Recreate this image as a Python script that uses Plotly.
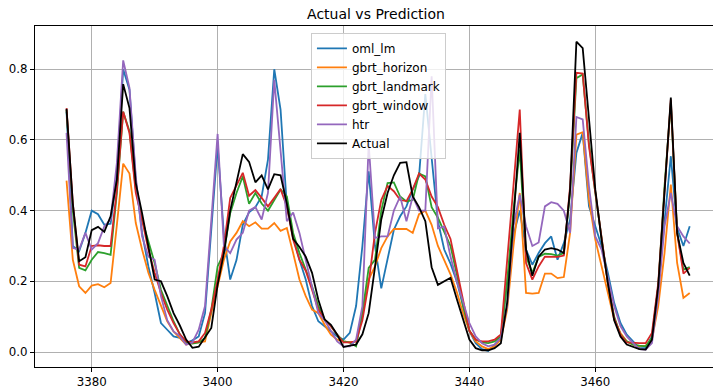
import plotly.graph_objects as go

# time index of the evaluation window
steps = list(range(3376, 3476))

actual = [0.688, 0.42, 0.257, 0.268, 0.345, 0.354, 0.34, 0.384, 0.488, 0.758,
          0.69, 0.478, 0.393, 0.30, 0.205, 0.20, 0.158, 0.11, 0.075, 0.035,
          0.012, 0.015, 0.04, 0.068, 0.19, 0.28, 0.40, 0.478, 0.56, 0.538,
          0.48, 0.50, 0.46, 0.503, 0.50, 0.42, 0.32, 0.297, 0.27, 0.224,
          0.148, 0.092, 0.077, 0.049, 0.014, 0.018, 0.021, 0.05, 0.11, 0.24,
          0.375, 0.45, 0.50, 0.535, 0.537, 0.44, 0.41, 0.37, 0.24, 0.19,
          0.20, 0.21, 0.15, 0.09, 0.035, 0.011, 0.005, 0.005, 0.011, 0.025,
          0.14, 0.375, 0.62, 0.29, 0.216, 0.27, 0.29, 0.294, 0.29, 0.28,
          0.46, 0.878, 0.86, 0.66, 0.46, 0.318, 0.195, 0.09, 0.044, 0.021,
          0.014, 0.008, 0.007, 0.035, 0.186, 0.45, 0.72, 0.337, 0.252, 0.216]

oml_lm = [0.68, 0.30, 0.285, 0.337, 0.40, 0.39, 0.36, 0.363, 0.50, 0.80,
          0.742, 0.488, 0.337, 0.242, 0.167, 0.082, 0.063, 0.044, 0.04, 0.025,
          0.033, 0.044, 0.11, 0.356, 0.585, 0.33, 0.205, 0.26, 0.36, 0.395,
          0.41, 0.44, 0.544, 0.80, 0.686, 0.412, 0.327, 0.261, 0.205, 0.13,
          0.087, 0.073, 0.058, 0.044, 0.035, 0.054, 0.13, 0.30, 0.511, 0.30,
          0.18, 0.261, 0.346, 0.384, 0.412, 0.46, 0.497, 0.73, 0.55, 0.37,
          0.29, 0.25, 0.20, 0.13, 0.06, 0.025, 0.008, 0.003, 0.02, 0.04,
          0.20, 0.33, 0.40, 0.29, 0.247, 0.28, 0.308, 0.327, 0.261, 0.308,
          0.375, 0.563, 0.62, 0.412, 0.356, 0.30, 0.224, 0.139, 0.082, 0.049,
          0.03, 0.011, 0.011, 0.044, 0.186, 0.375, 0.554, 0.351, 0.30, 0.356]

gbrt_horizon = [0.485, 0.261, 0.186, 0.167, 0.188, 0.192, 0.183, 0.195, 0.36, 0.533,
                0.505, 0.365, 0.29, 0.224, 0.176, 0.13, 0.087, 0.058, 0.04, 0.021,
                0.025, 0.027, 0.03, 0.11, 0.186, 0.261, 0.313, 0.337, 0.37, 0.356,
                0.367, 0.349, 0.349, 0.365, 0.343, 0.351, 0.28, 0.205, 0.158, 0.12,
                0.11, 0.077, 0.049, 0.035, 0.03, 0.027, 0.03, 0.11, 0.205, 0.242,
                0.294, 0.327, 0.348, 0.349, 0.348, 0.337, 0.39, 0.40, 0.36, 0.30,
                0.26, 0.22, 0.17, 0.11, 0.06, 0.03, 0.016, 0.008, 0.016, 0.035,
                0.12, 0.30, 0.45, 0.167, 0.165, 0.167, 0.222, 0.222, 0.209, 0.212,
                0.337, 0.615, 0.622, 0.431, 0.318, 0.242, 0.167, 0.092, 0.054, 0.03,
                0.021, 0.016, 0.018, 0.035, 0.13, 0.28, 0.474, 0.252, 0.153, 0.167]

gbrt_landmark = [0.685, 0.40, 0.238, 0.231, 0.261, 0.283, 0.28, 0.275, 0.45, 0.68,
                 0.625, 0.46, 0.375, 0.31, 0.252, 0.176, 0.13, 0.087, 0.05, 0.027,
                 0.024, 0.027, 0.04, 0.12, 0.242, 0.28, 0.393, 0.45, 0.497, 0.419,
                 0.45, 0.42, 0.40, 0.43, 0.46, 0.44, 0.337, 0.28, 0.235, 0.186,
                 0.13, 0.092, 0.073, 0.049, 0.03, 0.027, 0.016, 0.11, 0.238, 0.261,
                 0.40, 0.478, 0.48, 0.44, 0.426, 0.43, 0.505, 0.497, 0.41, 0.38,
                 0.34, 0.30, 0.22, 0.13, 0.06, 0.035, 0.027, 0.025, 0.03, 0.045,
                 0.20, 0.40, 0.573, 0.27, 0.224, 0.269, 0.278, 0.277, 0.273, 0.28,
                 0.45, 0.775, 0.785, 0.59, 0.45, 0.327, 0.195, 0.10, 0.049, 0.03,
                 0.021, 0.018, 0.016, 0.04, 0.186, 0.469, 0.705, 0.337, 0.233, 0.24]

gbrt_window = [0.69, 0.42, 0.247, 0.242, 0.30, 0.302, 0.30, 0.30, 0.46, 0.68,
               0.62, 0.45, 0.375, 0.29, 0.224, 0.167, 0.12, 0.082, 0.05, 0.03,
               0.027, 0.03, 0.054, 0.12, 0.205, 0.30, 0.436, 0.47, 0.507, 0.442,
               0.458, 0.436, 0.412, 0.436, 0.461, 0.412, 0.318, 0.261, 0.23, 0.176,
               0.12, 0.092, 0.073, 0.049, 0.027, 0.027, 0.03, 0.09, 0.195, 0.337,
               0.43, 0.47, 0.455, 0.43, 0.427, 0.46, 0.505, 0.488, 0.44, 0.41,
               0.36, 0.32, 0.23, 0.14, 0.06, 0.035, 0.03, 0.03, 0.035, 0.05,
               0.25, 0.47, 0.686, 0.252, 0.205, 0.242, 0.27, 0.27, 0.269, 0.273,
               0.469, 0.79, 0.788, 0.582, 0.45, 0.318, 0.195, 0.096, 0.049, 0.027,
               0.025, 0.025, 0.025, 0.054, 0.195, 0.459, 0.714, 0.337, 0.222, 0.238]

htr = [0.62, 0.294, 0.29, 0.337, 0.29, 0.308, 0.355, 0.375, 0.535, 0.825,
       0.747, 0.497, 0.327, 0.27, 0.261, 0.158, 0.09, 0.058, 0.045, 0.021,
       0.027, 0.063, 0.13, 0.36, 0.617, 0.30, 0.28, 0.318, 0.337, 0.40,
       0.41, 0.375, 0.45, 0.77, 0.563, 0.37, 0.395, 0.337, 0.26, 0.186,
       0.11, 0.09, 0.06, 0.03, 0.016, 0.016, 0.035, 0.13, 0.59, 0.323,
       0.327, 0.327, 0.40, 0.44, 0.37, 0.44, 0.40, 0.40, 0.78, 0.35,
       0.355, 0.27, 0.2, 0.139, 0.082, 0.044, 0.025, 0.016, 0.021, 0.04,
       0.13, 0.356, 0.445, 0.356, 0.30, 0.31, 0.412, 0.424, 0.419, 0.40,
       0.337, 0.665, 0.658, 0.469, 0.327, 0.29, 0.214, 0.13, 0.073, 0.044,
       0.025, 0.008, 0.007, 0.025, 0.158, 0.356, 0.45, 0.356, 0.327, 0.307]

series = [
    ("oml_lm", oml_lm, "#1f77b4"),
    ("gbrt_horizon", gbrt_horizon, "#ff7f0e"),
    ("gbrt_landmark", gbrt_landmark, "#2ca02c"),
    ("gbrt_window", gbrt_window, "#d62728"),
    ("htr", htr, "#9467bd"),
    ("Actual", actual, "#000000"),
]

FONT = "DejaVu Sans"

fig = go.Figure()
for name, vals, color in series:
    fig.add_trace(go.Scatter(
        x=steps, y=vals, name=name, mode="lines",
        line=dict(color=color, width=1.8),
    ))

fig.update_layout(
    width=713, height=390,
    margin=dict(l=35, r=0, t=26, b=23),
    paper_bgcolor="white", plot_bgcolor="white",
    font=dict(family=FONT, size=12, color="black"),
    title=dict(text="Actual vs Prediction", x=376 / 713, xref="container",
               xanchor="center", y=1 - 14 / 390, yref="container",
               yanchor="middle", font=dict(family=FONT, size=14, color="black")),
    showlegend=True,
    legend=dict(x=0.407, y=0.98, xanchor="left", yanchor="top",
                bgcolor="rgba(255,255,255,0.8)", bordercolor="#cccccc",
                borderwidth=1, font=dict(family=FONT, size=12, color="black"),
                tracegroupgap=0),
)

fig.update_xaxes(
    range=[3370.99, 3478.70],
    tickvals=[3380, 3400, 3420, 3440, 3460],
    showgrid=True, gridcolor="#b0b0b0", gridwidth=0.8,
    showline=True, linecolor="black", linewidth=1, mirror=True,
    ticks="outside", ticklen=4, tickcolor="black", tickwidth=1,
    tickfont=dict(family=FONT, size=11.8, color="black"),
    zeroline=False,
)
fig.update_yaxes(
    range=[-0.0424, 0.9224],
    tickvals=[0.0, 0.2, 0.4, 0.6, 0.8], tickformat=".1f",
    showgrid=True, gridcolor="#b0b0b0", gridwidth=0.8,
    showline=True, linecolor="black", linewidth=1,
    ticks="outside", ticklen=4, tickcolor="black", tickwidth=1,
    tickfont=dict(family=FONT, size=11.8, color="black"),
    zeroline=False,
)

fig.write_html("out.html")
